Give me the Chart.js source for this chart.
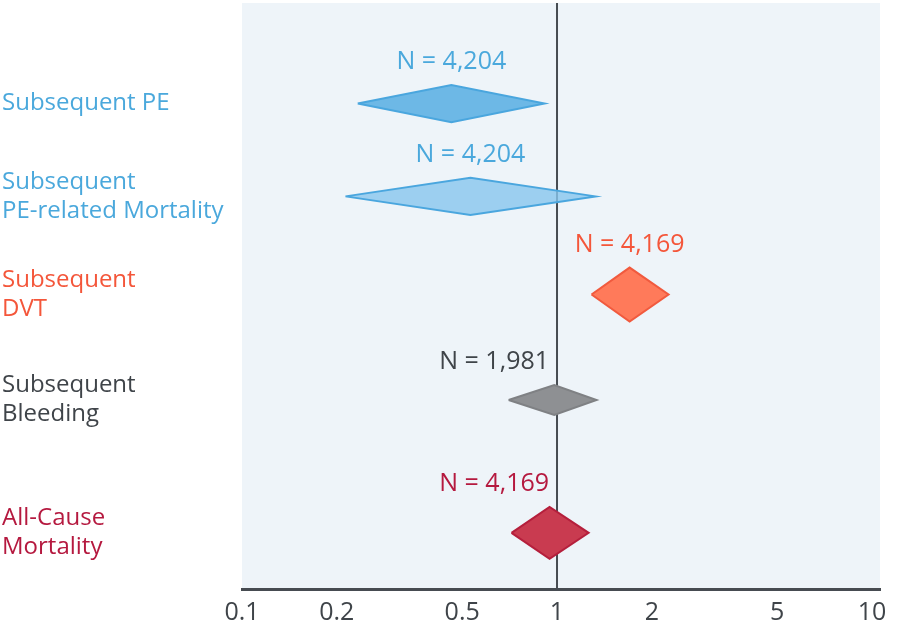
<!DOCTYPE html>
<html>
<head>
<meta charset="utf-8">
<script src="https://cdn.jsdelivr.net/npm/chart.js@4.4.1/dist/chart.umd.min.js"></script>
<style>
  html, body { margin: 0; padding: 0; background: #fff; }
  #wrap { width: 900px; height: 627px; }
</style>
</head>
<body>
<div id="wrap"><canvas id="forest"></canvas></div>
<script>
// Forest plot data (rows top to bottom)
const outcomes = [
  ['Subsequent PE'],
  ['Subsequent', 'PE-related Mortality'],
  ['Subsequent', 'DVT'],
  ['Subsequent', 'Bleeding'],
  ['All-Cause', 'Mortality']
];
const sampleSizes = ['N = 4,204', 'N = 4,204', 'N = 4,169', 'N = 1,981', 'N = 4,169'];
const estimate = [0.462, 0.531, 1.70, 0.98, 0.947];
const lowerCI = [0.233, 0.213, 1.287, 0.702, 0.717];
const upperCI = [0.913, 1.325, 2.26, 1.335, 1.26];
const rowPos = [1.03, 1.98, 2.985, 4.065, 5.425];
const xTicks = [0.1, 0.2, 0.5, 1, 2, 5, 10];

// Styling
const textColors = ['#4aa8dc', '#4aa8dc', '#f4563a', '#3f4449', '#b5193f'];
const fillColors = ['#6db8e6', 'rgba(135,198,238,0.8)', '#ff7a5a', '#8e9093', '#c93b50'];
const lineColors = ['#4aa6de', '#4aa6de', '#f15a3e', '#7f8184', '#b51f3c'];
const halfHeight = [0.19, 0.19, 0.276, 0.154, 0.266];
const labelAlign = ['center', 'center', 'center', 'right', 'right'];
const FONT = "'Open Sans', sans-serif";

// Build one closed diamond per outcome
const diamonds = estimate.map((est, i) => ({
  data: [
    { x: lowerCI[i], y: rowPos[i] },
    { x: est, y: rowPos[i] - halfHeight[i] },
    { x: upperCI[i], y: rowPos[i] },
    { x: est, y: rowPos[i] + halfHeight[i] },
    { x: lowerCI[i], y: rowPos[i] }
  ],
  showLine: true,
  fill: 'shape',
  backgroundColor: fillColors[i],
  borderColor: lineColors[i],
  borderWidth: 2,
  borderJoinStyle: 'miter',
  pointRadius: 0,
  order: 1
}));

// Line of no effect at 1
const refLine = {
  data: [{ x: 1, y: 0 }, { x: 1, y: 6 }],
  showLine: true,
  borderColor: '#474c52',
  borderWidth: 2,
  pointRadius: 0,
  fill: false,
  order: 10
};

// Light plot background
const plotBackground = {
  id: 'plotBackground',
  beforeDraw(chart) {
    const { ctx, chartArea: a } = chart;
    ctx.save();
    ctx.fillStyle = '#eef4f9';
    ctx.fillRect(a.left, a.top, a.right - a.left, a.bottom - a.top);
    ctx.restore();
  }
};

// "N = ..." labels above each diamond
const sampleLabels = {
  id: 'sampleLabels',
  afterDatasetsDraw(chart) {
    const { ctx, scales: { x, y } } = chart;
    ctx.save();
    ctx.font = '25px ' + FONT;
    ctx.textBaseline = 'middle';
    sampleSizes.forEach((txt, i) => {
      const top = y.getPixelForValue(rowPos[i] - halfHeight[i]);
      let px;
      if (labelAlign[i] === 'right') {
        px = x.getPixelForValue(1) - 8;
        ctx.textAlign = 'right';
      } else {
        px = x.getPixelForValue(estimate[i]);
        ctx.textAlign = 'center';
      }
      ctx.fillStyle = textColors[i];
      ctx.fillText(txt, px, top - 23);
    });
    ctx.restore();
  }
};

new Chart(document.getElementById('forest'), {
  type: 'scatter',
  data: { datasets: [...diamonds, refLine] },
  options: {
    responsive: true,
    maintainAspectRatio: false,
    animation: false,
    layout: { padding: { top: 3, right: 20, left: 2, bottom: 0 } },
    plugins: {
      legend: { display: false },
      tooltip: { enabled: false }
    },
    scales: {
      x: {
        type: 'logarithmic',
        min: 0.1,
        max: 10.6,
        afterBuildTicks: axis => { axis.ticks = xTicks.map(v => ({ value: v })); },
        afterFit: axis => { axis.height = 38; },
        ticks: {
          autoSkip: false,
          maxRotation: 0,
          padding: 1,
          color: '#3f4449',
          font: { family: FONT, size: 25 },
          callback: v => String(v)
        },
        grid: { display: false },
        border: { display: true, color: '#464b51', width: 3 }
      },
      y: {
        type: 'linear',
        reverse: true,
        min: 0,
        max: 6,
        afterBuildTicks: axis => { axis.ticks = rowPos.map(v => ({ value: v })); },
        afterFit: axis => {
          axis.width = 240;
          axis.paddingTop = 0;
          axis.paddingBottom = 0;
        },
        ticks: {
          autoSkip: false,
          crossAlign: 'far',
          padding: 0,
          color: ctx => textColors[ctx.index],
          font: { family: FONT, size: 24, lineHeight: 1.22 },
          callback: (v, i) => outcomes[i]
        },
        grid: { display: false },
        border: { display: false }
      }
    }
  },
  plugins: [plotBackground, sampleLabels]
});
</script>
</body>
</html>
